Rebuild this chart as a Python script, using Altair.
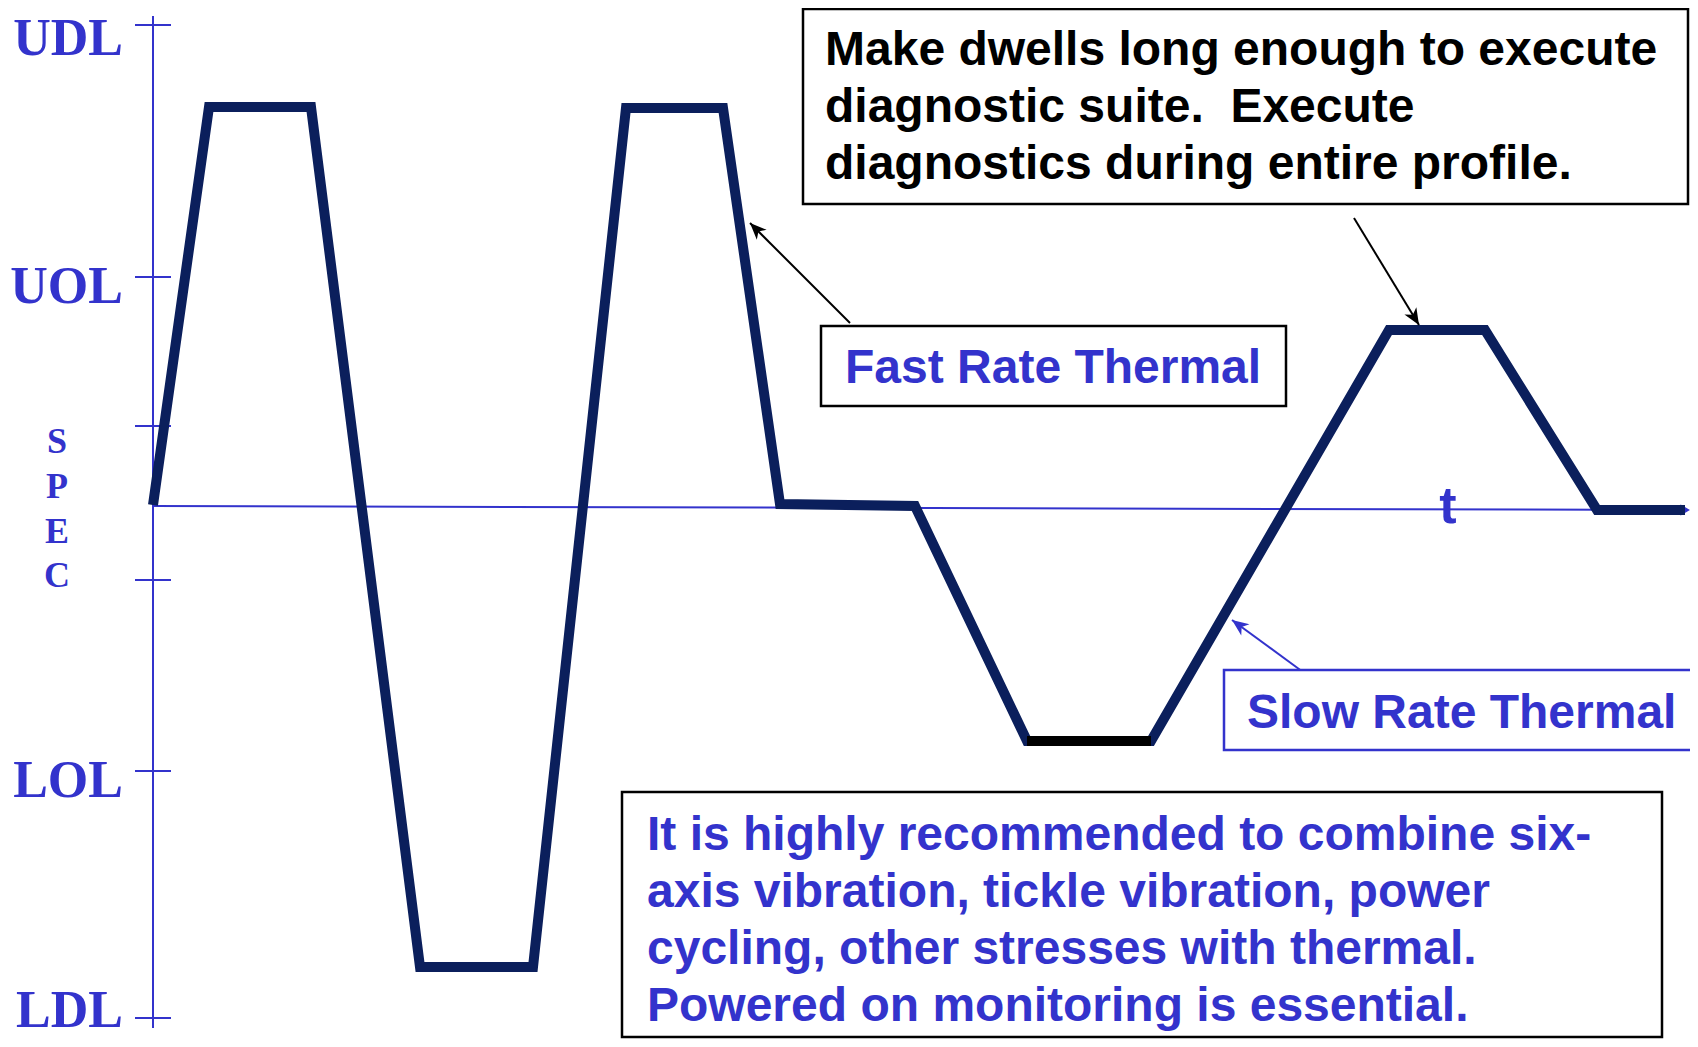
import math
import altair as alt
import pandas as pd

BLUE = "#3333cc"
NAVY = "#0b1f5c"
BLACK = "#000000"

# ---------------- data (time units / level units) ----------------
profile_t = [0.0, 5.6, 15.8, 26.7, 38.0, 47.3, 57.0, 62.7, 76.2, 87.4, 99.8, 123.6, 133.2, 144.4, 153.2]
profile_L = [0.2, 79.8, 79.8, -92.2, -92.2, 79.6, 79.6, 0.4, 0.0, -47.0, -47.0, 35.2, 35.2, -0.8, -0.8]

dwell_t = [87.4, 99.8]
dwell_L = [-47.0, -47.0]

tick_levels = [96.2, 45.8, 16.0, -14.8, -53.0, -102.4]

label_names = ["UDL", "UOL", "LOL", "LDL"]
label_levels = [90.2, 40.6, -58.2, -104.2]

spec_letters = ["S", "P", "E", "C"]
spec_levels = [10.6, 1.6, -7.4, -16.2]

time_axis_t = [0.0, 153.5]
time_axis_L = [0.0, -0.8]
level_axis_L = [98.0, -104.4]

box_t0 = [65.0, 66.8, 107.1, 46.9]
box_t1 = [153.5, 113.3, 157.0, 150.9]
box_L0 = [99.4, 36.0, -32.8, -57.2]
box_L1 = [60.4, 20.0, -48.8, -106.2]
box_stroke = [BLACK, BLACK, BLUE, BLACK]

note_t = [67.2, 69.2, 109.4, 49.4]
note_L = [88.2, 24.6, -44.4, -68.8]
note_text = [
    "Make dwells long enough to execute\ndiagnostic suite.\u00a0 Execute\ndiagnostics during entire profile.",
    "Fast Rate Thermal",
    "Slow Rate Thermal",
    "It is highly recommended to combine six-\naxis vibration, tickle vibration, power\ncycling, other stresses with thermal.\nPowered on monitoring is essential.",
]
note_color = [BLACK, BLUE, BLUE, BLUE]

arrow_tail_t = [69.7, 120.1, 115.0]
arrow_tail_L = [36.6, 57.6, -33.2]
arrow_tip_t = [59.7, 126.6, 107.9]
arrow_tip_L = [56.6, 36.2, -22.8]
arrow_color = [BLACK, BLACK, BLUE]

# ---------------- scales ----------------
WIDTH, HEIGHT = 1682, 1031
X_DOM = [-14.5, 153.7]
Y_DOM = [-106.6, 99.6]
PX_T = WIDTH / (X_DOM[1] - X_DOM[0])
PX_L = HEIGHT / (Y_DOM[1] - Y_DOM[0])

xs = alt.Scale(domain=X_DOM, nice=False, zero=False)
ys = alt.Scale(domain=Y_DOM, nice=False, zero=False)


def X(f="t"):
    return alt.X(f"{f}:Q", scale=xs, axis=None)


def Y(f="L"):
    return alt.Y(f"{f}:Q", scale=ys, axis=None)


# level axis
lvl_df = pd.DataFrame({"t": [0.0], "L": [level_axis_L[0]], "L2": [level_axis_L[1]]})
level_axis = alt.Chart(lvl_df).mark_rule(color=BLUE, strokeWidth=2).encode(
    x=X(), y=Y(), y2="L2:Q")

# time axis
ta_df = pd.DataFrame({"t": time_axis_t, "L": time_axis_L, "o": [0, 1]})
time_axis = alt.Chart(ta_df).mark_line(color=BLUE, strokeWidth=2).encode(
    x=X(), y=Y(), order="o:Q")
ta_head = alt.Chart(pd.DataFrame({"t": [time_axis_t[1]], "L": [time_axis_L[1]]})).mark_point(
    shape="M-0.9,-0.55L0,0L-0.9,0.55", filled=False, color=BLUE, strokeWidth=2,
    size=300, opacity=1).encode(x=X(), y=Y())

# ticks
tick_df = pd.DataFrame({"t": [0.0] * len(tick_levels), "L": tick_levels})
ticks = alt.Chart(tick_df).mark_tick(orient="horizontal", size=36, thickness=2,
                                     color=BLUE, opacity=1).encode(x=X(), y=Y())

# limit labels
lab_df = pd.DataFrame({"name": label_names, "L": label_levels})
lab_df["t"] = -3.0
labels = alt.Chart(lab_df).mark_text(
    align="right", baseline="alphabetic", font="Liberation Serif",
    fontWeight="bold", fontSize=52, color=BLUE).encode(x=X(), y=Y(), text="name:N")

spec_df = pd.DataFrame({"ch": spec_letters, "L": spec_levels})
spec_df["t"] = -9.6
spec = alt.Chart(spec_df).mark_text(
    align="center", baseline="alphabetic", font="Liberation Serif",
    fontWeight="bold", fontSize=36, color=BLUE).encode(x=X(), y=Y(), text="ch:N")

# profile
prof_df = pd.DataFrame({"t": profile_t, "L": profile_L, "o": list(range(len(profile_t)))})
profile = alt.Chart(prof_df).mark_line(
    color=NAVY, strokeWidth=10, strokeJoin="miter", strokeCap="butt").encode(
    x=X(), y=Y(), order="o:Q")
dwell_df = pd.DataFrame({"t": dwell_t, "L": dwell_L, "o": [0, 1]})
dwell = alt.Chart(dwell_df).mark_line(color=BLACK, strokeWidth=10, strokeCap="butt").encode(
    x=X(), y=Y(), order="o:Q")

# arrows
ang = []
for a, b, c, d in zip(arrow_tail_t, arrow_tail_L, arrow_tip_t, arrow_tip_L):
    dx = (c - a) * PX_T
    dy = -(d - b) * PX_L
    ang.append(math.degrees(math.atan2(dx, -dy)) % 360)
arr_df = pd.DataFrame({"t": arrow_tail_t, "L": arrow_tail_L, "t2": arrow_tip_t,
                       "L2": arrow_tip_L, "color": arrow_color, "angle": ang})
shafts = alt.Chart(arr_df).mark_rule(strokeWidth=2).encode(
    x=X(), y=Y(), x2="t2:Q", y2="L2:Q", color=alt.Color("color:N", scale=None))
heads = alt.Chart(arr_df).mark_point(
    shape="M0,0L-0.42,1L0,0.72L0.42,1Z", filled=True, size=1100, opacity=1,
    strokeWidth=0).encode(
    x=X("t2"), y=Y("L2"), angle=alt.Angle("angle:Q", scale=None),
    color=alt.Color("color:N", scale=None))

# boxes
box_df = pd.DataFrame({"t": box_t0, "t2": box_t1, "L": box_L0, "L2": box_L1,
                       "stroke": box_stroke})
boxes = alt.Chart(box_df).mark_rect(fill="white", strokeWidth=2.5).encode(
    x=X(), x2="t2:Q", y=Y(), y2="L2:Q", stroke=alt.Stroke("stroke:N", scale=None))

note_df = pd.DataFrame({"t": note_t, "L": note_L, "text": note_text, "color": note_color})
notes = alt.Chart(note_df).mark_text(
    align="left", baseline="alphabetic", lineBreak="\n", lineHeight=57,
    font="Liberation Sans", fontWeight="bold", fontSize=48).encode(
    x=X(), y=Y(), text="text:N", color=alt.Color("color:N", scale=None))

t_df = pd.DataFrame({"t": [129.5], "L": [-3.4], "s": ["t"]})
t_label = alt.Chart(t_df).mark_text(
    align="center", baseline="alphabetic", font="Liberation Sans", fontWeight="bold",
    fontSize=52, color=BLUE).encode(x=X(), y=Y(), text="s:N")

chart = alt.layer(
    level_axis, time_axis, ta_head, ticks, labels, spec, t_label,
    profile, dwell, shafts, heads, boxes, notes
).properties(
    width=WIDTH, height=HEIGHT, padding=0, autosize=alt.AutoSizeParams(type="none"),
    background="white"
).configure_view(stroke=None)

chart.save("out.html", embed_options={"renderer": "svg", "actions": False})
